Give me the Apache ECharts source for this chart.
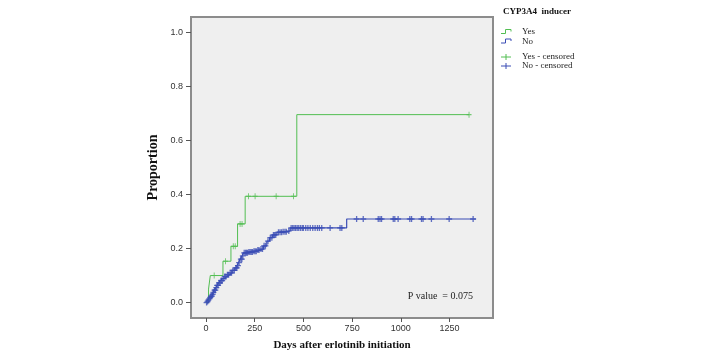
<!DOCTYPE html>
<html>
<head>
<meta charset="utf-8">
<script src="https://cdn.jsdelivr.net/npm/echarts@6/dist/echarts.min.js"></script>
<style>
html,body{margin:0;padding:0;background:#fff;}
#chart{width:724px;height:353px;}
</style>
</head>
<body>
<div id="chart"></div>
<script>
// ---- Data ----
// Kaplan-Meier style cumulative proportion steps: [day, proportion]
var yesSteps = [[0,0],[13,0.05],[22,0.10],[87,0.153],[128,0.208],[162,0.291],[201,0.393],[466,0.695],[1350,0.695]];
var yesCensored = [42,100,140,150,175,185,218,252,360,449,1350];

var noSteps = [[0,0],[4,0.004],[9,0.009],[14,0.014],[19,0.019],[25,0.024],[31,0.030],[37,0.038],[43,0.046],[50,0.055],[57,0.064],[65,0.073],[74,0.081],[84,0.089],[95,0.096],[107,0.103],[120,0.110],[134,0.119],[148,0.128],[159,0.137],[167,0.148],[176,0.161],[185,0.173],[193,0.184],[215,0.187],[244,0.190],[262,0.194],[278,0.198],[295,0.210],[312,0.227],[326,0.240],[342,0.250],[364,0.260],[392,0.262],[415,0.265],[432,0.276],[722,0.309],[1385,0.309]];
var noCensored = [3,8,12,17,22,26,30,34,38,44,48,53,57,62,67,72,78,83,90,96,102,110,116,124,131,138,145,153,158,164,170,179,184,189,196,203,208,213,220,226,232,238,246,252,258,266,272,282,290,298,305,318,330,338,346,352,358,372,380,388,396,405,412,425,437,445,452,460,468,476,485,494,500,512,523,535,548,560,572,582,594,637,688,697,773,807,884,893,901,961,969,986,1046,1055,1106,1114,1157,1248,1371];

var xTicks = [0,250,500,750,1000,1250];
var yTicks = [0,0.2,0.4,0.6,0.8,1.0];

var legendTitle = 'CYP3A4  inducer';
var legendNames = ['Yes','No','Yes - censored','No - censored'];
var pValueText = 'P value  = 0.075';

// ---- helpers ----
function valueAt(steps, t){
  var v = steps[0][1];
  for (var i=0;i<steps.length;i++){ if (steps[i][0] <= t) v = steps[i][1]; }
  return v;
}
function censorPoints(steps, days){ return days.map(function(d){ return [d, valueAt(steps,d)]; }); }

var GREEN = '#52be52';
var BLUE = '#3b4db5';
var censorSymbol = 'path://M5,0 L5,10 M2,5 L8,5';

var chart = echarts.init(document.getElementById('chart'), null, {renderer:'canvas'});
var option = {
  animation:false,
  backgroundColor:'#ffffff',
  grid:{left:191, right:231, top:17, bottom:35, show:true, backgroundColor:'#efefef', borderColor:'#8c8c8c', borderWidth:2, containLabel:false, outerBoundsMode:'none'},
  xAxis:{
    type:'value', min:-77, max:1473,
    splitLine:{show:false},
    axisLine:{show:false, onZero:false},
    axisTick:{show:true, length:4, customValues:xTicks, lineStyle:{color:'#555', width:1}},
    axisLabel:{show:true, customValues:xTicks, fontSize:9, color:'#333', fontFamily:'Liberation Sans, Arial', margin:6,
      formatter:function(v){ return String(Math.round(v)); }},
    name:'Days after erlotinib initiation', nameLocation:'middle', nameGap:22,
    nameTextStyle:{fontFamily:'Liberation Serif', fontWeight:'bold', fontSize:11, color:'#111'}
  },
  yAxis:{
    type:'value', min:-0.057, max:1.056,
    splitLine:{show:false},
    axisLine:{show:false, onZero:false},
    axisTick:{show:true, length:5, customValues:yTicks, lineStyle:{color:'#555', width:1}},
    axisLabel:{show:true, customValues:yTicks, fontSize:9, color:'#333', fontFamily:'Liberation Sans, Arial', margin:8,
      formatter:function(v){ return Number(v).toFixed(1); }},
    name:'Proportion', nameLocation:'middle', nameGap:31, nameRotate:90,
    nameTextStyle:{fontFamily:'Liberation Serif', fontWeight:'bold', fontSize:14, color:'#111'}
  },
  series:[
    {name:legendNames[0], type:'line', step:'end', data:yesSteps, showSymbol:false, lineStyle:{color:GREEN, width:1}, z:3},
    {name:legendNames[1], type:'line', step:'end', data:noSteps, showSymbol:false, lineStyle:{color:BLUE, width:1.2}, z:2},
    {name:legendNames[2], type:'scatter', data:censorPoints(yesSteps, yesCensored), symbol:censorSymbol, symbolSize:[5,6],
      itemStyle:{color:'transparent', borderColor:GREEN, borderWidth:1}, z:4},
    {name:legendNames[3], type:'scatter', data:censorPoints(noSteps, noCensored), symbol:censorSymbol, symbolSize:[6,6],
      itemStyle:{color:'transparent', borderColor:BLUE, borderWidth:1.3}, z:3}
  ],
  graphic:[
    {type:'text', left:503, top:7, style:{text:legendTitle, font:'bold 9px "Liberation Serif"', fill:'#111'}},
    // legend: Yes
    {type:'polyline', shape:{points:[[501,33.5],[505.5,33.5],[505.5,29.5],[511,29.5],[511,31.5]]}, style:{stroke:GREEN, lineWidth:1, fill:null}},
    {type:'text', left:522, top:27.5, style:{text:legendNames[0], font:'9px "Liberation Serif"', fill:'#222'}},
    // legend: No
    {type:'polyline', shape:{points:[[501,43],[505.5,43],[505.5,39],[511,39],[511,41]]}, style:{stroke:BLUE, lineWidth:1, fill:null}},
    {type:'text', left:522, top:37, style:{text:legendNames[1], font:'9px "Liberation Serif"', fill:'#222'}},
    // legend: Yes - censored
    {type:'polyline', shape:{points:[[501,57],[511,57]]}, style:{stroke:GREEN, lineWidth:1}},
    {type:'polyline', shape:{points:[[506,54],[506,60]]}, style:{stroke:GREEN, lineWidth:1}},
    {type:'text', left:522, top:52, style:{text:legendNames[2], font:'9px "Liberation Serif"', fill:'#222'}},
    // legend: No - censored
    {type:'polyline', shape:{points:[[501,66],[511,66]]}, style:{stroke:BLUE, lineWidth:1}},
    {type:'polyline', shape:{points:[[506,63],[506,69]]}, style:{stroke:BLUE, lineWidth:1}},
    {type:'text', left:522, top:61, style:{text:legendNames[3], font:'9px "Liberation Serif"', fill:'#222'}},
    // p value
    {type:'text', right:251, top:291, style:{text:pValueText, font:'10px "Liberation Serif"', fill:'#222'}}
  ]
};
chart.setOption(option);
</script>
</body>
</html>
